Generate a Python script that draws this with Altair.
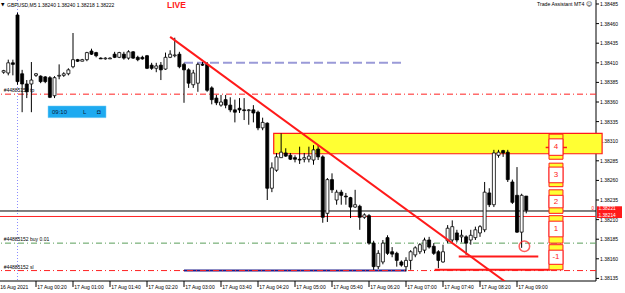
import altair as alt
import pandas as pd

FONT = "Liberation Sans"

# ---- GBPUSD M5 candles, first bar 16 Aug 23:45, last bar 17 Aug 09:10 ----
opens = [1.38398, 1.38397, 1.38410, 1.38471, 1.38396, 1.38383, 1.38383, 1.38394, 1.38393, 1.38392,
         1.38391, 1.38368, 1.38393, 1.38394, 1.38396, 1.38405, 1.38414, 1.38412, 1.38414, 1.38425,
         1.38423, 1.38416, 1.38415, 1.38415, 1.38421, 1.38417, 1.38421, 1.38416, 1.38424, 1.38417,
         1.38417, 1.38419, 1.38407, 1.38403, 1.38407, 1.38402, 1.38417, 1.38419, 1.38421, 1.38408,
         1.38401, 1.38382, 1.38384, 1.38408, 1.38408, 1.38378, 1.38365, 1.38356, 1.38363, 1.38356,
         1.38350, 1.38352, 1.38350, 1.38349, 1.38350, 1.38347, 1.38327, 1.38333, 1.38250, 1.38273,
         1.38289, 1.38295, 1.38292, 1.38289, 1.38287, 1.38287, 1.38287, 1.38286, 1.38300, 1.38290,
         1.38218, 1.38261, 1.38235, 1.38245, 1.38240, 1.38238, 1.38226, 1.38227, 1.38213, 1.38215,
         1.38180, 1.38150, 1.38156, 1.38187, 1.38169, 1.38167, 1.38156, 1.38150, 1.38158, 1.38165,
         1.38169, 1.38171, 1.38184, 1.38176, 1.38169, 1.38156, 1.38183, 1.38184, 1.38193, 1.38188,
         1.38188, 1.38184, 1.38187, 1.38193, 1.38197, 1.38244, 1.38229, 1.38292, 1.38298, 1.38296,
         1.38258, 1.38241, 1.38194, 1.38240]
highs = [1.38401, 1.38414, 1.38414, 1.38474, 1.38401, 1.38388, 1.38411, 1.38397, 1.38394, 1.38393,
         1.38393, 1.38393, 1.38408, 1.38398, 1.38403, 1.38448, 1.38415, 1.38415, 1.38424, 1.38428,
         1.38424, 1.38417, 1.38417, 1.38417, 1.38424, 1.38424, 1.38424, 1.38426, 1.38425, 1.38419,
         1.38419, 1.38420, 1.38410, 1.38410, 1.38411, 1.38423, 1.38426, 1.38442, 1.38424, 1.38410,
         1.38403, 1.38401, 1.38410, 1.38411, 1.38411, 1.38380, 1.38369, 1.38369, 1.38369, 1.38366,
         1.38363, 1.38365, 1.38365, 1.38351, 1.38356, 1.38349, 1.38340, 1.38334, 1.38283, 1.38295,
         1.38320, 1.38301, 1.38295, 1.38292, 1.38303, 1.38295, 1.38303, 1.38305, 1.38305, 1.38292,
         1.38263, 1.38269, 1.38248, 1.38248, 1.38244, 1.38239, 1.38248, 1.38229, 1.38218, 1.38217,
         1.38183, 1.38171, 1.38184, 1.38190, 1.38175, 1.38169, 1.38158, 1.38162, 1.38171, 1.38176,
         1.38180, 1.38187, 1.38188, 1.38180, 1.38171, 1.38178, 1.38203, 1.38209, 1.38197, 1.38197,
         1.38190, 1.38197, 1.38201, 1.38203, 1.38258, 1.38250, 1.38299, 1.38299, 1.38299, 1.38299,
         1.38261, 1.38277, 1.38243, 1.38240]
lows = [1.38396, 1.38394, 1.38394, 1.38382, 1.38347, 1.38365, 1.38347, 1.38392, 1.38384, 1.38384,
        1.38365, 1.38365, 1.38389, 1.38392, 1.38394, 1.38403, 1.38411, 1.38412, 1.38412, 1.38420,
        1.38417, 1.38415, 1.38414, 1.38415, 1.38416, 1.38416, 1.38414, 1.38414, 1.38415, 1.38412,
        1.38414, 1.38402, 1.38401, 1.38398, 1.38388, 1.38401, 1.38416, 1.38417, 1.38403, 1.38359,
        1.38378, 1.38378, 1.38373, 1.38406, 1.38373, 1.38357, 1.38356, 1.38354, 1.38352, 1.38347,
        1.38334, 1.38346, 1.38337, 1.38331, 1.38334, 1.38324, 1.38324, 1.38235, 1.38245, 1.38271,
        1.38289, 1.38290, 1.38286, 1.38283, 1.38281, 1.38283, 1.38283, 1.38280, 1.38286, 1.38206,
        1.38207, 1.38244, 1.38229, 1.38229, 1.38229, 1.38212, 1.38225, 1.38197, 1.38211, 1.38178,
        1.38146, 1.38147, 1.38153, 1.38165, 1.38162, 1.38150, 1.38150, 1.38144, 1.38146, 1.38162,
        1.38166, 1.38167, 1.38173, 1.38165, 1.38148, 1.38155, 1.38180, 1.38181, 1.38181, 1.38181,
        1.38165, 1.38178, 1.38184, 1.38188, 1.38194, 1.38226, 1.38226, 1.38289, 1.38290, 1.38258,
        1.38230, 1.38193, 1.38174, 1.38218]
closes = [1.38400, 1.38410, 1.38408, 1.38386, 1.38383, 1.38373, 1.38388, 1.38396, 1.38386, 1.38386,
          1.38366, 1.38391, 1.38394, 1.38396, 1.38401, 1.38414, 1.38412, 1.38414, 1.38423, 1.38421,
          1.38419, 1.38415, 1.38416, 1.38416, 1.38417, 1.38423, 1.38416, 1.38424, 1.38416, 1.38414,
          1.38415, 1.38403, 1.38403, 1.38406, 1.38401, 1.38417, 1.38421, 1.38420, 1.38405, 1.38401,
          1.38384, 1.38397, 1.38408, 1.38407, 1.38375, 1.38363, 1.38359, 1.38360, 1.38356, 1.38350,
          1.38347, 1.38350, 1.38349, 1.38350, 1.38346, 1.38327, 1.38334, 1.38250, 1.38276, 1.38290,
          1.38296, 1.38291, 1.38287, 1.38287, 1.38286, 1.38289, 1.38291, 1.38299, 1.38290, 1.38213,
          1.38261, 1.38248, 1.38245, 1.38241, 1.38239, 1.38226, 1.38229, 1.38213, 1.38216, 1.38180,
          1.38150, 1.38167, 1.38180, 1.38167, 1.38166, 1.38158, 1.38152, 1.38158, 1.38169, 1.38174,
          1.38178, 1.38184, 1.38175, 1.38167, 1.38158, 1.38169, 1.38199, 1.38201, 1.38184, 1.38190,
          1.38180, 1.38190, 1.38197, 1.38201, 1.38245, 1.38229, 1.38295, 1.38296, 1.38295, 1.38261,
          1.38232, 1.38194, 1.38241, 1.38222]

# minutes relative to 17 Aug 2021 00:00 (M5 bars)
bar_minutes = [-15 + 5 * i for i in range(len(opens))]

time_tick_minutes = [-20, 20, 60, 100, 140, 180, 220, 260, 300, 340, 380, 420, 460, 500, 540]
time_tick_labels = ["16 Aug 2021", "17 Aug 00:20", "17 Aug 01:00", "17 Aug 01:40", "17 Aug 02:20",
                    "17 Aug 03:00", "17 Aug 03:40", "17 Aug 04:20", "17 Aug 05:00", "17 Aug 05:40",
                    "17 Aug 06:20", "17 Aug 07:00", "17 Aug 07:40", "17 Aug 08:20", "17 Aug 09:00"]
price_ticks = [1.38135, 1.38160, 1.38185, 1.38210, 1.38235, 1.38260, 1.38285, 1.38310,
               1.38335, 1.38360, 1.38385, 1.38410, 1.38435, 1.38460, 1.38485]
price_tick_labels = ["1.38135", "1.38160", "1.38185", "1.38210", "1.38235", "1.38260", "1.38285",
                     "1.38310", "1.38335", "1.38360", "1.38385", "1.38410", "1.38435", "1.38460",
                     "1.38485"]

# order / object levels
tp_price, entry_price, sl_price = 1.38370, 1.38180, 1.38145
bid_price, ask_price = 1.38221, 1.38214
order_labels = ["#44885152 tp", "#44885152 buy 0.01", "#44885152 sl"]
hline_blue_price, hline_blue_from, hline_blue_to = 1.38410, 180, 415
navy_from, navy_to = 180, 420
zone_low, zone_high, zone_from, zone_to = 1.38294, 1.38320, 277, 632
trend_minutes, trend_prices = [165, 527], [1.38443, 1.38131]
seg_prices, seg_from, seg_to = [1.38163, 1.38146], [477, 451], [563, 576]
circle_minute, circle_price = 548, 1.38176

ta_labels = ["4", "3", "2", "1", "-1"]
ta_outer_top = [1.38319, 1.38282, 1.38248, 1.38215, 1.38178]
ta_outer_bot = [1.38287, 1.38252, 1.38218, 1.38180, 1.38146]
ta_inner_top = [1.38313, 1.38277, 1.38241, 1.38208, 1.38171]
ta_inner_bot = [1.38292, 1.38257, 1.38225, 1.38188, 1.38153]
ta_from, ta_to = 574.6, 589.7

# ---- scales ----
W, H = 596, 281
X_DOMAIN = [-18.92, 625.4]
Y_DOMAIN = [1.381317, 1.384901]
xs = alt.Scale(domain=X_DOMAIN, nice=False, zero=False, padding=0)
ys = alt.Scale(domain=Y_DOMAIN, nice=False, zero=False, padding=0)
MIN_PER_PX = (X_DOMAIN[1] - X_DOMAIN[0]) / W
PRICE_PER_PX = (Y_DOMAIN[1] - Y_DOMAIN[0]) / H


def X(field, **kw):
    return alt.X(field, scale=xs, axis=None, **kw)


def Y(field, **kw):
    return alt.Y(field, scale=ys, axis=None, **kw)


df = pd.DataFrame({"m": bar_minutes, "o": opens, "h": highs, "l": lows, "c": closes})
df["fill"] = ["white" if c >= o else "black" for o, c in zip(opens, closes)]

wicks = alt.Chart(df).mark_rule(color="black", strokeWidth=1).encode(
    x=X("m:Q"), y=Y("l:Q"), y2="h:Q")
bodies = alt.Chart(df).mark_bar(size=3, stroke="black", strokeWidth=0.8).encode(
    x=X("m:Q"), y=Y("o:Q"), y2="c:Q", fill=alt.Fill("fill:N", scale=None))

# ---- price / time scale frame (drawn on the chart's own scales) ----
right_edge = X_DOMAIN[1]
bottom_edge = Y_DOMAIN[0]
frame_v = alt.Chart(pd.DataFrame({"m": [right_edge]})).mark_rule(color="black", strokeWidth=1).encode(
    x=X("m:Q"))
frame_h = alt.Chart(pd.DataFrame({"p": [bottom_edge]})).mark_rule(color="black", strokeWidth=1).encode(
    y=Y("p:Q"))
pt_df = pd.DataFrame({"p": price_ticks, "t": price_tick_labels})
pt_df["m1"] = right_edge
pt_df["m2"] = right_edge + 3 * MIN_PER_PX
pt_df["mt"] = right_edge + 4 * MIN_PER_PX
price_tick_marks = alt.Chart(pt_df).mark_rule(color="black", strokeWidth=1, clip=False).encode(
    x=X("m1:Q"), x2="m2:Q", y=Y("p:Q"))
price_tick_text = alt.Chart(pt_df).mark_text(
    align="left", baseline="middle", fontSize=5, font=FONT, color="black", clip=False).encode(
    x=X("mt:Q"), y=Y("p:Q"), text="t:N")
tt_df = pd.DataFrame({"m": time_tick_minutes, "t": time_tick_labels})
tt_df = tt_df[tt_df["m"] >= X_DOMAIN[0] - 2]
tt_df["p1"] = bottom_edge
tt_df["p2"] = bottom_edge - 6 * PRICE_PER_PX
tt_df["pt"] = bottom_edge - 4 * PRICE_PER_PX
tt_df["mt"] = tt_df["m"] + 1.2 * MIN_PER_PX
time_tick_marks = alt.Chart(tt_df).mark_rule(color="black", strokeWidth=1, clip=False).encode(
    x=X("m:Q"), y=Y("p1:Q"), y2="p2:Q")
time_tick_text = alt.Chart(tt_df).mark_text(
    align="left", baseline="top", fontSize=5, font=FONT, color="black", clip=False).encode(
    x=X("mt:Q"), y=Y("pt:Q"), text="t:N")

# ---- objects ----
sep = alt.Chart(pd.DataFrame({"m": [0]})).mark_rule(
    color="#8c8cff", strokeDash=[1, 2], strokeWidth=1).encode(x=X("m:Q"))

zone = alt.Chart(pd.DataFrame({"m1": [zone_from], "m2": [zone_to], "p1": [zone_low], "p2": [zone_high]})
                 ).mark_rect(fill="#ffff33", stroke="#ff1a1a", strokeWidth=1.2, clip=False).encode(
    x=X("m1:Q"), x2="m2:Q", y=Y("p1:Q"), y2="p2:Q")

navy = alt.Chart(pd.DataFrame({"m1": [navy_from], "m2": [navy_to], "p": [sl_price]})).mark_rule(
    color="#1c1c8c", strokeWidth=2).encode(x=X("m1:Q"), x2="m2:Q", y=Y("p:Q"))

lines_df = pd.DataFrame({"p": [tp_price, entry_price, sl_price],
                         "col": ["#ff2020", "#5a9e5a", "#ff2020"]})
dashdot = alt.Chart(lines_df).mark_rule(strokeDash=[6, 3, 1, 3], strokeWidth=1).encode(
    y=Y("p:Q"), color=alt.Color("col:N", scale=None))

bidask = alt.Chart(pd.DataFrame({"p": [bid_price, ask_price], "col": ["black", "#ff2020"]})).mark_rule(
    strokeWidth=1).encode(y=Y("p:Q"), color=alt.Color("col:N", scale=None))

blue_dash = alt.Chart(pd.DataFrame({"m1": [hline_blue_from], "m2": [hline_blue_to], "p": [hline_blue_price]})
                      ).mark_rule(color="#9a9ad8", strokeWidth=2, strokeDash=[9, 4]).encode(
    x=X("m1:Q"), x2="m2:Q", y=Y("p:Q"))

trend = alt.Chart(pd.DataFrame({"m": trend_minutes, "p": trend_prices})).mark_line(
    color="#ff1a1a", strokeWidth=2, clip=True).encode(x=X("m:Q"), y=Y("p:Q"))

segs = alt.Chart(pd.DataFrame({"m1": seg_from, "m2": seg_to, "p": seg_prices})).mark_rule(
    color="#ff1a1a", strokeWidth=2).encode(x=X("m1:Q"), x2="m2:Q", y=Y("p:Q"))

circle = alt.Chart(pd.DataFrame({"m": [circle_minute], "p": [circle_price]})).mark_point(
    shape="circle", size=110, color="#ff1a1a", strokeWidth=1.5, filled=False).encode(
    x=X("m:Q"), y=Y("p:Q"))

order_text = alt.Chart(pd.DataFrame({"m": [bar_minutes[0]] * 3, "p": [tp_price, entry_price, sl_price],
                                     "t": order_labels})).mark_text(
    align="left", baseline="bottom", dy=-1, fontSize=5, font=FONT, color="black").encode(
    x=X("m:Q"), y=Y("p:Q"), text="t:N")

# Trade Assistant level boxes
ta_df = pd.DataFrame({"lab": ta_labels, "ot": ta_outer_top, "ob": ta_outer_bot,
                      "it": ta_inner_top, "ib": ta_inner_bot})
ta_df["m1"] = ta_from
ta_df["m2"] = ta_to
ta_df["mid"] = [(a + b) / 2 for a, b in zip(ta_inner_top, ta_inner_bot)]
ta_df["mc"] = (ta_from + ta_to) / 2
ta_mark = alt.Chart(pd.DataFrame({"m1": [571.0], "m2": [594.0], "p": [1.38302]})).mark_rule(
    color="#ff1a1a", strokeWidth=1.5).encode(x=X("m1:Q"), x2="m2:Q", y=Y("p:Q"))
ta_outer = alt.Chart(ta_df).mark_rect(fill="#ffff33", stroke="#ff1a1a", strokeWidth=1).encode(
    x=X("m1:Q"), x2="m2:Q", y=Y("ob:Q"), y2="ot:Q")
ta_inner = alt.Chart(ta_df).mark_rect(fill="white", stroke="#ff1a1a", strokeWidth=1).encode(
    x=X("m1:Q"), x2="m2:Q", y=Y("ib:Q"), y2="it:Q")
ta_text = alt.Chart(ta_df).mark_text(fontSize=8, font=FONT, color="#ff1a1a").encode(
    x=X("mc:Q"), y=Y("mid:Q"), text="lab:N")

# info panel
info_box = alt.Chart(pd.DataFrame({"m1": [33], "m2": [95.7], "p1": [1.38340], "p2": [1.38355]})).mark_rect(
    fill="#1eaaf0", stroke="#7fd0f8", strokeWidth=0.5).encode(x=X("m1:Q"), x2="m2:Q", y=Y("p1:Q"), y2="p2:Q")
info_text = alt.Chart(pd.DataFrame({"m": [37.3, 70.8, 86.0], "p": [1.38347] * 3,
                                   "t": ["09:10", "L", "\u25d8"]})).mark_text(
    align="left", baseline="middle", fontSize=6, font=FONT, color="#0a1a3c").encode(
    x=X("m:Q"), y=Y("p:Q"), text="t:N")

# bid / ask labels on the price scale
price_box = alt.Chart(pd.DataFrame({"m1": [626.5], "m2": [653.5], "p1": [1.38212], "p2": [1.38227]})).mark_rect(
    fill="#ff1a1a", clip=False).encode(x=X("m1:Q"), x2="m2:Q", y=Y("p1:Q"), y2="p2:Q")
price_text = alt.Chart(pd.DataFrame({"m": [628.0, 628.0], "p": [1.38223, 1.38215],
                                    "t": ["1.38221", "1.38214"]})).mark_text(
    align="left", baseline="middle", fontSize=4.8, font=FONT, color="white", clip=False).encode(
    x=X("m:Q"), y=Y("p:Q"), text="t:N")
zero_mark = alt.Chart(pd.DataFrame({"m": [622.0], "p": [1.38223], "t": ["0"]})).mark_text(
    fontSize=4.5, font=FONT, color="#ff1a1a", clip=False).encode(x=X("m:Q"), y=Y("p:Q"), text="t:N")

# header texts
hdr = alt.Chart(pd.DataFrame({"t": ["\u25bc"]})).mark_text(
    align="left", baseline="middle", fontSize=4.5, font="DejaVu Sans", color="black").encode(
    x=alt.value(1), y=alt.value(4.5), text="t:N")
hdr2 = alt.Chart(pd.DataFrame({"t": ["GBPUSD,M5  1.38240 1.38240 1.38218 1.38222"]})).mark_text(
    align="left", baseline="middle", fontSize=5, font=FONT, color="black").encode(
    x=alt.value(7), y=alt.value(4.5), text="t:N")
live = alt.Chart(pd.DataFrame({"t": ["LIVE"]})).mark_text(
    align="left", baseline="middle", fontSize=8.5, font=FONT, fontWeight="bold", color="#ff1a1a").encode(
    x=alt.value(167), y=alt.value(4.5), text="t:N")
ta_title = alt.Chart(pd.DataFrame({"t": ["Trade Assistant MT4"]})).mark_text(
    align="left", baseline="middle", fontSize=5.2, font=FONT, color="black").encode(
    x=alt.value(537), y=alt.value(4), text="t:N")
ta_icon = alt.Chart(pd.DataFrame({"t": ["\u263a"]})).mark_text(
    align="left", baseline="middle", fontSize=6, font="DejaVu Sans", color="black").encode(
    x=alt.value(586), y=alt.value(4), text="t:N")

chart = alt.layer(
    frame_v, frame_h, price_tick_marks, price_tick_text, time_tick_marks, time_tick_text,
    sep, zone, navy, dashdot, bidask, blue_dash,
    wicks, bodies,
    trend, segs, circle, order_text,
    ta_mark, ta_outer, ta_inner, ta_text,
    info_box, info_text, price_box, price_text, zero_mark,
    hdr, hdr2, live, ta_title, ta_icon,
).properties(
    width=W, height=H,
    padding={"left": 0, "top": 0, "right": 29, "bottom": 12},
    autosize="none", background="white",
).configure_view(stroke=None)

chart.save("out.html", embed_options={"renderer": "svg", "actions": False})
